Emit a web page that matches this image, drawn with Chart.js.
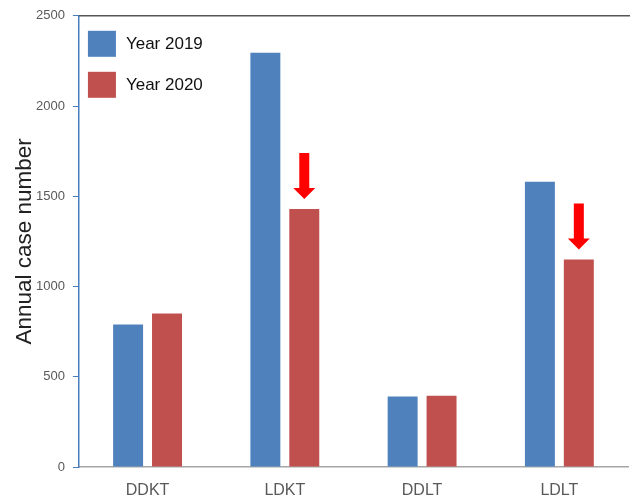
<!DOCTYPE html>
<html>
<head>
<meta charset="utf-8">
<script src="https://cdn.jsdelivr.net/npm/chart.js@4"></script>
<style>
  html, body { margin: 0; padding: 0; background: #fff; }
  #wrap { width: 630px; height: 498px; }
</style>
</head>
<body>
<div id="wrap"><canvas id="myChart"></canvas></div>
<script>
// categories and values
const categories = ['DDKT', 'LDKT', 'DDLT', 'LDLT'];
const cases2019 = [790, 2295, 390, 1580];
const cases2020 = [850, 1430, 395, 1150];
const yTicks = [0, 500, 1000, 1500, 2000, 2500];
// categories where 2020 dropped (red arrows)
const dropped = ['LDKT', 'LDLT'];

// top frame line
const topLine = {
  id: 'topLine',
  afterDraw(chart) {
    const { ctx, chartArea } = chart;
    ctx.save();
    ctx.strokeStyle = '#555';
    ctx.lineWidth = 1.5;
    ctx.beginPath();
    ctx.moveTo(chartArea.left, chartArea.top);
    ctx.lineTo(chart.width, chartArea.top);
    ctx.stroke();
    ctx.restore();
  }
};

// legend drawn inside the plot, top left
const insideLegend = {
  id: 'insideLegend',
  afterDraw(chart) {
    const { ctx, chartArea } = chart;
    ctx.save();
    ctx.font = '17px "Liberation Sans", Arial, sans-serif';
    ctx.textBaseline = 'middle';
    chart.data.datasets.forEach(function(ds, i) {
      const x = chartArea.left + 9;
      const y = chartArea.top + 15 + i * 41;
      ctx.fillStyle = ds.backgroundColor;
      ctx.fillRect(x, y, 28, 26);
      ctx.fillStyle = '#111';
      ctx.fillText(ds.label, x + 38, y + 14);
    });
    ctx.restore();
  }
};

// red down arrows above the 2020 bar
const dropArrows = {
  id: 'dropArrows',
  afterDatasetsDraw(chart) {
    const ctx = chart.ctx;
    const meta = chart.getDatasetMeta(1);
    ctx.save();
    ctx.fillStyle = '#ff0000';
    dropped.forEach(function(cat) {
      const bar = meta.data[categories.indexOf(cat)];
      const x = bar.x;
      const tip = bar.y - 10;
      const top = tip - 46;
      const headTop = tip - 11;
      ctx.beginPath();
      ctx.moveTo(x - 5, top);
      ctx.lineTo(x + 5, top);
      ctx.lineTo(x + 5, headTop);
      ctx.lineTo(x + 11, headTop);
      ctx.lineTo(x, tip);
      ctx.lineTo(x - 11, headTop);
      ctx.lineTo(x - 5, headTop);
      ctx.closePath();
      ctx.fill();
    });
    ctx.restore();
  }
};

const data = {
  labels: categories,
  datasets: [{
    label: 'Year 2019',
    data: cases2019,
    backgroundColor: '#4f81bd'
  }, {
    label: 'Year 2020',
    data: cases2020,
    backgroundColor: '#c0504d'
  }]
};

const options = {
  responsive: true,
  maintainAspectRatio: false,
  animation: false,
  layout: { padding: { top: 13, right: 2, bottom: -17, left: 1 } },
  categoryPercentage: 0.567,
  barPercentage: 0.77,
  plugins: {
    legend: { display: false },
    tooltip: { enabled: false }
  },
  scales: {
    x: {
      grid: { display: false, drawTicks: false },
      border: { color: '#a6a6a6', width: 1.5 },
      ticks: {
        color: '#595959',
        padding: 16,
        font: { family: 'Liberation Sans', size: 16, lineHeight: 1 }
      }
    },
    y: {
      min: 0,
      max: 2500,
      afterBuildTicks(axis) {
        axis.ticks = yTicks.map(v => ({ value: v }));
      },
      grid: {
        drawOnChartArea: false,
        drawTicks: true,
        tickLength: 6,
        color: '#4a7ebb'
      },
      border: { color: '#4a7ebb', width: 1.5 },
      ticks: {
        color: '#595959',
        padding: 8,
        font: { family: 'Liberation Sans', size: 13 },
        callback: v => String(v)
      },
      title: {
        display: true,
        text: 'Annual case number',
        color: '#222',
        padding: { top: 10, bottom: -10 },
        font: { family: 'Liberation Sans', size: 22.5, lineHeight: 1.2 }
      }
    }
  }
};

const ctx = document.getElementById('myChart').getContext('2d');
const myChart = new Chart(ctx, {
  type: 'bar',
  data: data,
  options: options,
  plugins: [topLine, insideLegend, dropArrows]
});
</script>
</body>
</html>
